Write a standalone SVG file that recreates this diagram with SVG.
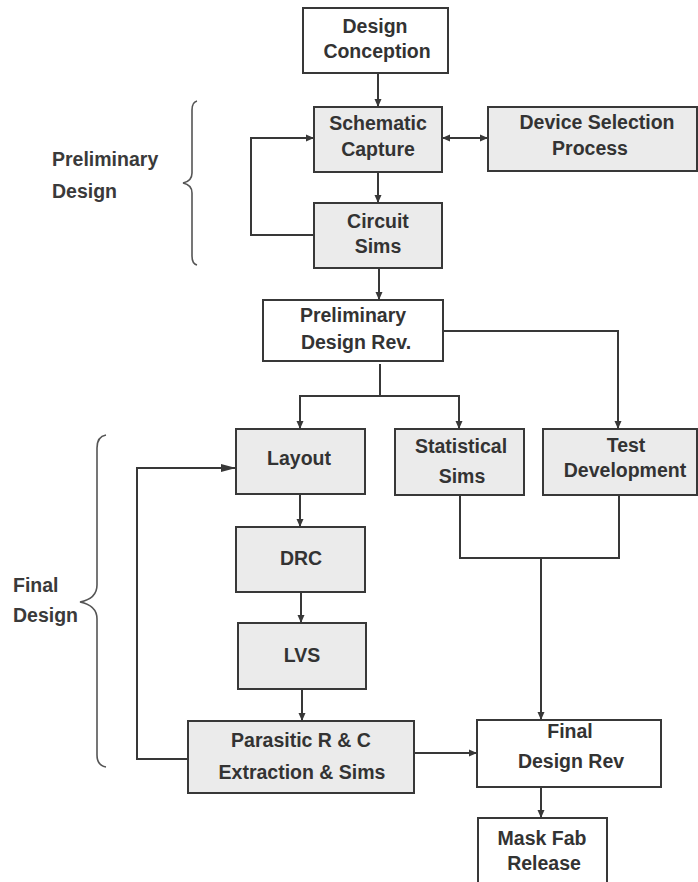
<svg xmlns="http://www.w3.org/2000/svg" width="698" height="882" viewBox="0 0 698 882">
  <style>
    .box { stroke: #383838; stroke-width: 2; }
    .white { fill: #ffffff; }
    .gray { fill: #ebebeb; }
    .lbl { font-family: "Liberation Sans", Arial, sans-serif; font-weight: bold; font-size: 19.5px; fill: #333333; text-anchor: middle; }
    .side { font-family: "Liberation Sans", Arial, sans-serif; font-weight: bold; font-size: 19.5px; fill: #3a3a3a; }
    .wire { fill: none; stroke: #383838; stroke-width: 2; }
    .brace { fill: none; stroke: #555555; stroke-width: 1.6; }
  </style>
  <defs>
    <marker id="arr" markerUnits="userSpaceOnUse" markerWidth="10" markerHeight="10" refX="8" refY="4" orient="auto-start-reverse">
      <path d="M0,0.5 L8,4 L0,7.5 Z" fill="#383838"/>
    </marker>
    <marker id="arrBig" markerUnits="userSpaceOnUse" markerWidth="16" markerHeight="10" refX="15" refY="5" orient="auto">
      <path d="M0,1 L15,5 L0,9 Z" fill="#383838"/>
    </marker>
  </defs>

  <rect width="698" height="882" fill="#ffffff"/>

  <!-- phase braces and labels -->
  <g id="phase-preliminary">
    <path class="brace" d="M197,101 C193,102 192,105 192,110 L192,173 C192,179 188,182 183,183 C188,184 192,187 192,193 L192,256 C192,261 193,264 197,265"/>
    <text class="side" x="52" y="166">Preliminary</text>
    <text class="side" x="52" y="198">Design</text>
  </g>
  <g id="phase-final">
    <path class="brace" d="M106,435 C100,436 97,441 97,448 L97,585 C97,595 90,600 80,602 C90,604 97,609 97,619 L97,755 C97,762 100,766 106,767"/>
    <text class="side" x="13" y="592">Final</text>
    <text class="side" x="13" y="622">Design</text>
  </g>

  <!-- connectors -->
  <g id="connectors">
    <path class="wire" d="M378,73 L378,107" marker-end="url(#arr)"/>
    <path class="wire" d="M442,138 L488,138" marker-start="url(#arr)" marker-end="url(#arr)"/>
    <path class="wire" d="M378,172 L378,203" marker-end="url(#arr)"/>
    <path class="wire" d="M314,235 L251,235 L251,138 L314,138" marker-end="url(#arr)"/>
    <path class="wire" d="M379,268 L379,300" marker-end="url(#arr)"/>
    <path class="wire" d="M380,364 L380,396"/>
    <path class="wire" d="M380,396 L300,396 L300,429" marker-end="url(#arr)"/>
    <path class="wire" d="M380,396 L459,396 L459,429" marker-end="url(#arr)"/>
    <path class="wire" d="M443,331 L618,331 L618,429" marker-end="url(#arr)"/>
    <path class="wire" d="M300,494 L300,527" marker-end="url(#arr)"/>
    <path class="wire" d="M301,592 L301,623" marker-end="url(#arr)"/>
    <path class="wire" d="M302,689 L302,721" marker-end="url(#arr)"/>
    <path class="wire" d="M188,759 L137,759 L137,468 L236,468" marker-end="url(#arrBig)"/>
    <path class="wire" d="M460,495 L460,558 L619,558 L619,495"/>
    <path class="wire" d="M541,558 L541,720" marker-end="url(#arr)"/>
    <path class="wire" d="M414,753 L477,753" marker-end="url(#arr)"/>
    <path class="wire" d="M541,787 L541,818" marker-end="url(#arr)"/>
  </g>

  <!-- process steps -->
  <g id="design-conception">
    <rect class="box white" x="303" y="8" width="145" height="65"/>
    <text class="lbl" x="375" y="33">Design</text>
    <text class="lbl" x="377" y="58">Conception</text>
  </g>
  <g id="schematic-capture">
    <rect class="box gray" x="314" y="107" width="128" height="65"/>
    <text class="lbl" x="378" y="130">Schematic</text>
    <text class="lbl" x="378" y="156">Capture</text>
  </g>
  <g id="device-selection">
    <rect class="box gray" x="488" y="107" width="209" height="64"/>
    <text class="lbl" x="597" y="129">Device Selection</text>
    <text class="lbl" x="590" y="155">Process</text>
  </g>
  <g id="circuit-sims">
    <rect class="box gray" x="314" y="203" width="128" height="65"/>
    <text class="lbl" x="378" y="228">Circuit</text>
    <text class="lbl" x="378" y="253">Sims</text>
  </g>
  <g id="preliminary-design-rev">
    <rect class="box white" x="263" y="300" width="180" height="61"/>
    <text class="lbl" x="353" y="322">Preliminary</text>
    <text class="lbl" x="356" y="349">Design Rev.</text>
  </g>
  <g id="layout">
    <rect class="box gray" x="236" y="429" width="129" height="65"/>
    <text class="lbl" x="299" y="465">Layout</text>
  </g>
  <g id="statistical-sims">
    <rect class="box gray" x="395" y="429" width="129" height="66"/>
    <text class="lbl" x="461" y="453">Statistical</text>
    <text class="lbl" x="462" y="483">Sims</text>
  </g>
  <g id="test-development">
    <rect class="box gray" x="543" y="429" width="154" height="66"/>
    <text class="lbl" x="626" y="452">Test</text>
    <text class="lbl" x="625" y="477">Development</text>
  </g>
  <g id="drc">
    <rect class="box gray" x="236" y="527" width="129" height="65"/>
    <text class="lbl" x="301" y="565">DRC</text>
  </g>
  <g id="lvs">
    <rect class="box gray" x="238" y="623" width="128" height="66"/>
    <text class="lbl" x="302" y="662">LVS</text>
  </g>
  <g id="parasitic-extraction">
    <rect class="box gray" x="188" y="721" width="226" height="72"/>
    <text class="lbl" x="301" y="747">Parasitic R &amp; C</text>
    <text class="lbl" x="302" y="779">Extraction &amp; Sims</text>
  </g>
  <g id="final-design-rev">
    <rect class="box white" x="477" y="720" width="184" height="67"/>
    <text class="lbl" x="570" y="738">Final</text>
    <text class="lbl" x="571" y="768">Design Rev</text>
  </g>
  <g id="mask-fab-release">
    <rect class="box white" x="478" y="818" width="129" height="70"/>
    <text class="lbl" x="542" y="845">Mask Fab</text>
    <text class="lbl" x="544" y="870">Release</text>
  </g>
</svg>
